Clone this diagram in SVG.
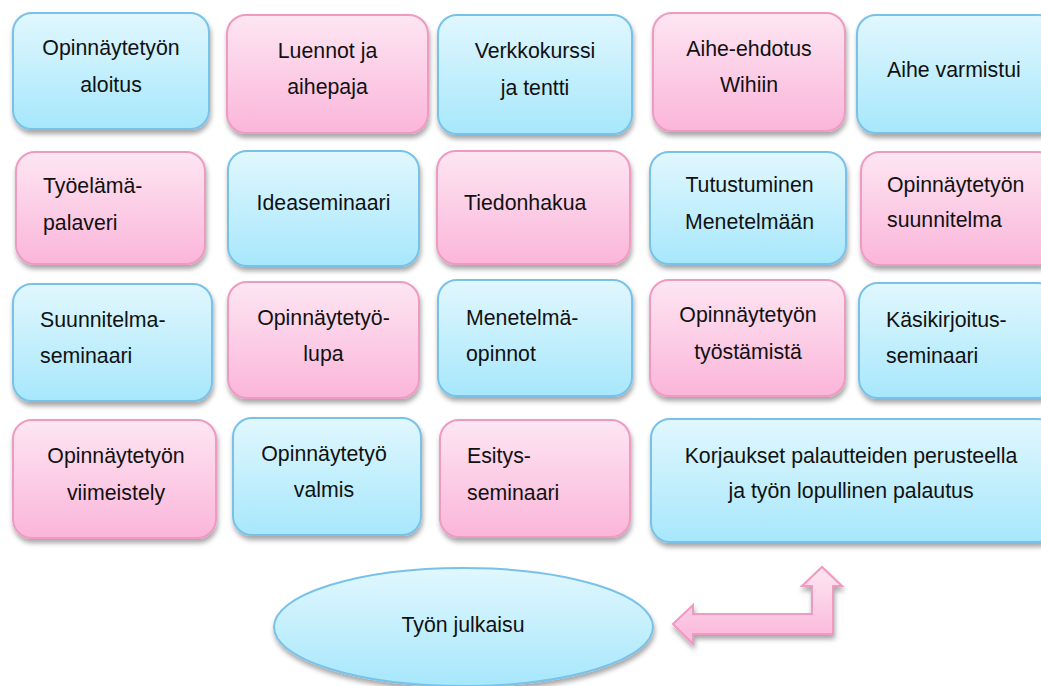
<svg xmlns="http://www.w3.org/2000/svg" width="1041" height="686" viewBox="0 0 1041 686">
<defs>
<linearGradient id="gb" x1="0" y1="0" x2="0" y2="1"><stop offset="0" stop-color="#e1f7fe"/><stop offset="1" stop-color="#a7e7fc"/></linearGradient>
<linearGradient id="gp" x1="0" y1="0" x2="0" y2="1"><stop offset="0" stop-color="#fde6f2"/><stop offset="1" stop-color="#fbb5da"/></linearGradient>
<filter id="sh" x="-10%" y="-10%" width="125%" height="130%"><feDropShadow dx="1" dy="4" stdDeviation="2.5" flood-color="#000" flood-opacity="0.35"/></filter>
<style>
.b{fill:url(#gb);stroke:#78c2ea;stroke-width:2;filter:url(#sh)}
.p{fill:url(#gp);stroke:#ef9ac0;stroke-width:2;filter:url(#sh)}
text{font-family:"Liberation Sans",Arial,sans-serif;font-size:21.3px;fill:#111}
.c{text-anchor:middle}
</style>
</defs>
<g id="n1"><rect class="b" x="13" y="13" width="196" height="116" rx="19"/><text class="c" x="111" y="55">Opinnäytetyön</text><text class="c" x="111" y="92">aloitus</text></g>
<g id="n2"><rect class="p" x="227" y="15" width="201" height="118" rx="19"/><text class="c" x="327.5" y="58">Luennot ja</text><text class="c" x="327.5" y="94">aihepaja</text></g>
<g id="n3"><rect class="b" x="438" y="15" width="194" height="119" rx="19"/><text class="c" x="535" y="58">Verkkokurssi</text><text class="c" x="535" y="95">ja tentti</text></g>
<g id="n4"><rect class="p" x="653" y="13" width="192" height="118" rx="19"/><text class="c" x="749" y="56">Aihe-ehdotus</text><text class="c" x="749" y="92">Wihiin</text></g>
<g id="n5"><rect class="b" x="857" y="15" width="200" height="118" rx="19"/><text x="887" y="77">Aihe varmistui</text></g>
<g id="n6"><rect class="p" x="16" y="152" width="189" height="112" rx="19"/><text x="43" y="193">Työelämä-</text><text x="43" y="230">palaveri</text></g>
<g id="n7"><rect class="b" x="228" y="151" width="191" height="115" rx="19"/><text class="c" x="323.5" y="210">Ideaseminaari</text></g>
<g id="n8"><rect class="p" x="437" y="151" width="193" height="113" rx="19"/><text x="464" y="210">Tiedonhakua</text></g>
<g id="n9"><rect class="b" x="650" y="152" width="196" height="112" rx="19"/><text class="c" x="749.5" y="192">Tutustuminen</text><text class="c" x="749.5" y="229">Menetelmään</text></g>
<g id="n10"><rect class="p" x="861" y="152" width="196" height="113" rx="19"/><text x="887" y="192">Opinnäytetyön</text><text x="887" y="227">suunnitelma</text></g>
<g id="n11"><rect class="b" x="13" y="284" width="199" height="117" rx="19"/><text x="40" y="327">Suunnitelma-</text><text x="40" y="363">seminaari</text></g>
<g id="n12"><rect class="p" x="228" y="282" width="191" height="116" rx="19"/><text class="c" x="323.5" y="325">Opinnäytetyö-</text><text class="c" x="323.5" y="361">lupa</text></g>
<g id="n13"><rect class="b" x="438" y="280" width="194" height="116" rx="19"/><text x="466" y="325">Menetelmä-</text><text x="466" y="361">opinnot</text></g>
<g id="n14"><rect class="p" x="650" y="280" width="195" height="116" rx="19"/><text class="c" x="748" y="322">Opinnäytetyön</text><text class="c" x="748" y="359">työstämistä</text></g>
<g id="n15"><rect class="b" x="859" y="283" width="198" height="115" rx="19"/><text x="886" y="327">Käsikirjoitus-</text><text x="886" y="363">seminaari</text></g>
<g id="n16"><rect class="p" x="13" y="420" width="203" height="118" rx="19"/><text class="c" x="116" y="463">Opinnäytetyön</text><text class="c" x="116" y="500">viimeistely</text></g>
<g id="n17"><rect class="b" x="233" y="418" width="188" height="117" rx="19"/><text class="c" x="324" y="461">Opinnäytetyö</text><text class="c" x="324" y="497">valmis</text></g>
<g id="n18"><rect class="p" x="440" y="420" width="190" height="117" rx="19"/><text x="467" y="463">Esitys-</text><text x="467" y="500">seminaari</text></g>
<g id="n19"><rect class="b" x="651" y="419" width="406" height="123" rx="19"/><text class="c" x="851" y="463">Korjaukset palautteiden perusteella</text><text class="c" x="851" y="498">ja työn lopullinen palautus</text></g>
<g id="n20"><ellipse class="b" cx="463.5" cy="627" rx="189.5" ry="59"/><text class="c" x="463" y="632">Työn julkaisu</text></g>
<g id="connectors"><polygon class="p" points="673,624 693,605 693,614 812,614 812,586 802,586 822,567 842,586 833,586 833,634 693,634 693,644"/></g>
</svg>
